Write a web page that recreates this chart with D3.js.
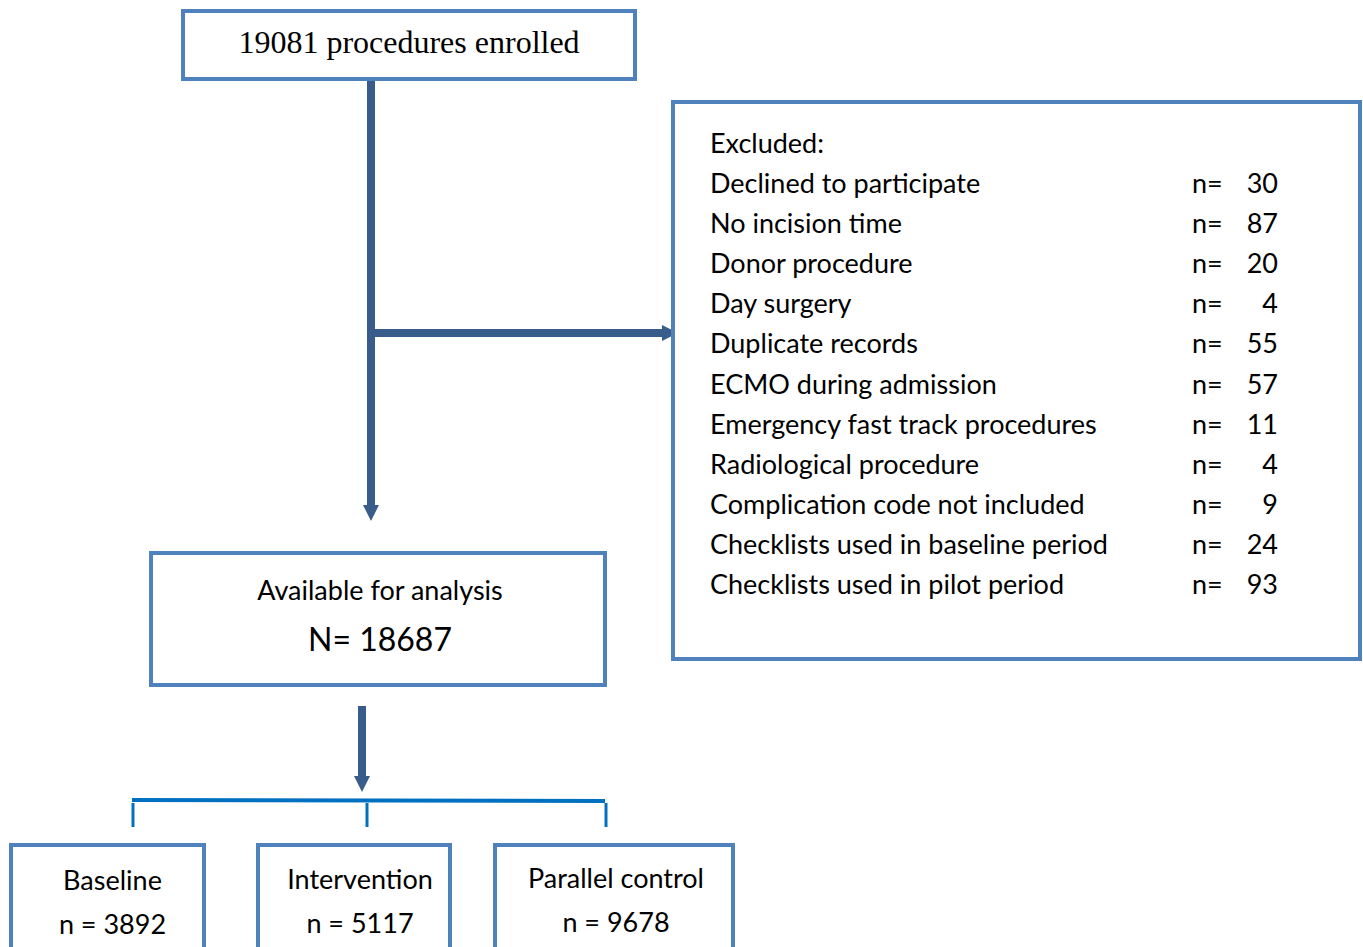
<!DOCTYPE html>
<html>
<head>
<meta charset="utf-8">
<title>Flow of procedures</title>
<style>
  body { margin: 0; background: #fff; }
  .box { fill: #fff; stroke: #4f81bd; stroke-width: 4; }
  .sans { font-family: Lato, "Open Sans", sans-serif; fill: #000; }
  .serif { font-family: "Liberation Serif", "DejaVu Serif", serif; fill: #000; }
</style>
<script src="https://d3js.org/d3.v7.min.js"></script>
</head>
<body>
<svg id="flow"></svg>
<script>
  var enrolled = 19081;
  var available = 18687;
  var exclusionReasons = ["Declined to participate", "No incision time", "Donor procedure", "Day surgery",
    "Duplicate records", "ECMO during admission", "Emergency fast track procedures", "Radiological procedure",
    "Complication code not included", "Checklists used in baseline period", "Checklists used in pilot period"];
  var exclusionCounts = [30, 87, 20, 4, 55, 57, 11, 4, 9, 24, 93];
  var groupNames = ["Baseline", "Intervention", "Parallel control"];
  var groupCounts = [3892, 5117, 9678];

  var W = 1363, H = 947;
  var arrowCol = "#385d8a", bracketCol = "#0070c0";

  var svg = d3.select("#flow").attr("width", W).attr("height", H);

  // arrow head marker
  var defs = svg.append("defs");
  defs.append("marker").attr("id", "head")
    .attr("viewBox", "0 0 10 10").attr("refX", 0).attr("refY", 5)
    .attr("markerWidth", 2).attr("markerHeight", 2).attr("markerUnits", "strokeWidth")
    .attr("orient", "auto")
    .append("path").attr("d", "M0,0 L10,5 L0,10 Z").attr("fill", arrowCol);

  // connectors
  svg.append("line").attr("x1", 371).attr("y1", 80).attr("x2", 371).attr("y2", 505)
    .attr("stroke", arrowCol).attr("stroke-width", 8).attr("marker-end", "url(#head)");
  svg.append("line").attr("x1", 371).attr("y1", 333).attr("x2", 662).attr("y2", 333)
    .attr("stroke", arrowCol).attr("stroke-width", 8).attr("marker-end", "url(#head)");
  svg.append("line").attr("x1", 362).attr("y1", 706).attr("x2", 362).attr("y2", 776)
    .attr("stroke", arrowCol).attr("stroke-width", 8).attr("marker-end", "url(#head)");

  // top box
  svg.append("rect").attr("class", "box").attr("x", 183).attr("y", 11).attr("width", 452).attr("height", 68);
  svg.append("text").attr("class", "serif").attr("x", 409).attr("y", 53)
    .attr("text-anchor", "middle").style("font-size", "32px")
    .text(enrolled + " procedures enrolled");

  // exclusion box
  svg.append("rect").attr("class", "box").attr("x", 673).attr("y", 102).attr("width", 687).attr("height", 557);
  var rowY = d3.scalePoint().domain(d3.range(exclusionReasons.length + 1)).range([153, 594]);
  svg.append("text").attr("class", "sans").attr("x", 710).attr("y", rowY(0))
    .style("font-size", "27px").text("Excluded:");
  var rows = svg.append("g").selectAll("g").data(exclusionReasons).enter().append("g")
    .attr("transform", function(d, i) { return "translate(0," + rowY(i + 1) + ")"; });
  rows.append("text").attr("class", "sans").attr("x", 710).style("font-size", "27px")
    .text(function(d) { return d; });
  rows.append("text").attr("class", "sans").attr("x", 1192).style("font-size", "27px").text("n=");
  rows.append("text").attr("class", "sans").attr("x", 1278).attr("text-anchor", "end")
    .style("font-size", "27px").text(function(d, i) { return exclusionCounts[i]; });

  // available box
  svg.append("rect").attr("class", "box").attr("x", 151).attr("y", 553).attr("width", 454).attr("height", 132);
  svg.append("text").attr("class", "sans").attr("x", 380).attr("y", 600)
    .attr("text-anchor", "middle").style("font-size", "27px").text("Available for analysis");
  svg.append("text").attr("class", "sans").attr("x", 380).attr("y", 651)
    .attr("text-anchor", "middle").style("font-size", "32px").text("N= " + available);

  // bracket
  var tickX = [133, 367, 606];
  svg.append("line").attr("x1", 132).attr("y1", 800).attr("x2", 605).attr("y2", 801)
    .attr("stroke", bracketCol).attr("stroke-width", 4);
  svg.append("g").selectAll("line").data(tickX).enter().append("line")
    .attr("x1", function(d) { return d; }).attr("x2", function(d) { return d; })
    .attr("y1", 803).attr("y2", 827)
    .attr("stroke", bracketCol).attr("stroke-width", 3);

  // group boxes
  var boxX = [11, 258, 495], boxW = [193, 192, 238], shift = [5, 6, 2];
  var groups = svg.append("g").selectAll("g").data(groupNames).enter().append("g");
  groups.append("rect").attr("class", "box")
    .attr("x", function(d, i) { return boxX[i]; }).attr("y", 845)
    .attr("width", function(d, i) { return boxW[i]; }).attr("height", 120);
  groups.append("text").attr("class", "sans").attr("text-anchor", "middle")
    .attr("x", function(d, i) { return boxX[i] + boxW[i] / 2 + shift[i]; })
    .attr("y", function(d, i) { return 890 - i; })
    .style("font-size", "27px").text(function(d) { return d; });
  groups.append("text").attr("class", "sans").attr("text-anchor", "middle")
    .attr("x", function(d, i) { return boxX[i] + boxW[i] / 2 + shift[i]; })
    .attr("y", function(d, i) { return 934 - i; })
    .style("font-size", "27px").text(function(d, i) { return "n = " + groupCounts[i]; });
</script>
</body>
</html>
